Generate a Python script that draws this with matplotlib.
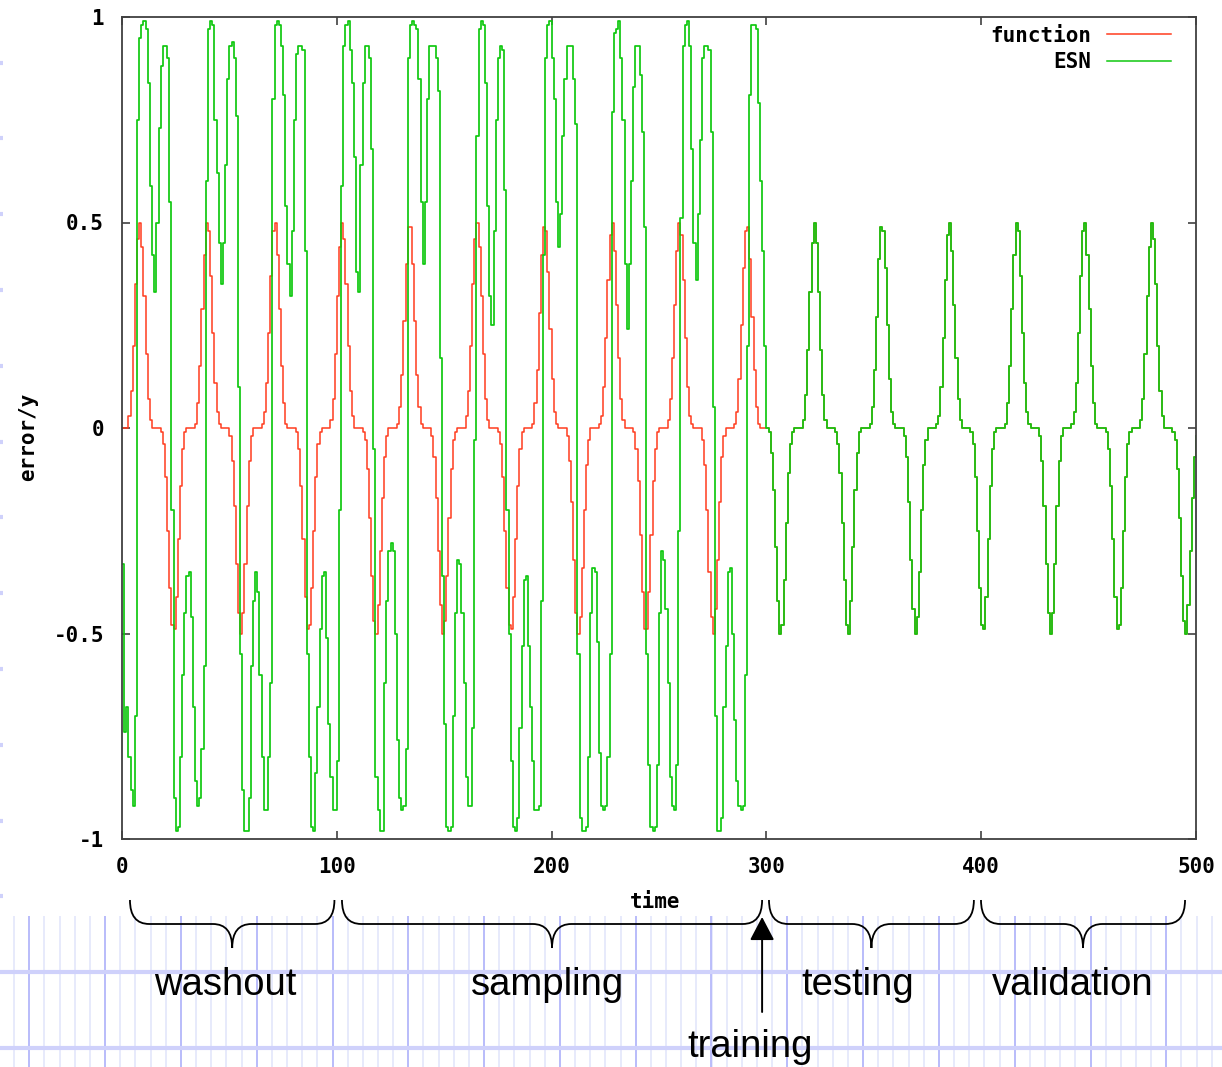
import numpy as np
import matplotlib.pyplot as plt
from matplotlib.path import Path
from matplotlib.patches import PathPatch, Rectangle
from matplotlib.transforms import blended_transform_factory

# one sample per time step, t = 0 .. 500
time = np.arange(501)

# target signal ("function")
function_y = [
    0, 0, 0, .03, .09, .20, .35, .46, .50, .44,
    .32, .18, .07, .02, 0, 0, 0, 0, -.01, -.04,
    -.12, -.25, -.39, -.48, -.49, -.41, -.27, -.14, -.05, -.01,
    0, 0, 0, 0, .01, .06, .15, .29, .42, .50,
    .48, .37, .23, .11, .04, .01, 0, 0, 0, 0,
    -.02, -.08, -.19, -.33, -.45, -.50, -.45, -.33, -.19, -.08,
    -.02, 0, 0, 0, 0, .01, .04, .11, .23, .37,
    .48, .50, .42, .29, .15, .06, .01, 0, 0, 0,
    0, -.01, -.05, -.14, -.27, -.41, -.49, -.48, -.39, -.25,
    -.12, -.04, -.01, 0, 0, 0, 0, .02, .07, .18,
    .32, .44, .50, .46, .35, .20, .09, .03, 0, 0,
    0, 0, -.01, -.03, -.10, -.22, -.36, -.47, -.50, -.43,
    -.30, -.17, -.07, -.02, 0, 0, 0, 0, .01, .05,
    .13, .26, .40, .49, .49, .40, .26, .13, .05, .01,
    0, 0, 0, 0, -.02, -.07, -.17, -.30, -.43, -.50,
    -.47, -.36, -.22, -.10, -.03, -.01, 0, 0, 0, 0,
    .03, .09, .20, .35, .46, .50, .44, .32, .18, .07,
    .02, 0, 0, 0, 0, -.01, -.04, -.12, -.25, -.39,
    -.48, -.49, -.41, -.27, -.14, -.05, -.01, 0, 0, 0,
    0, .01, .06, .14, .28, .42, .49, .48, .38, .24,
    .12, .04, .01, 0, 0, 0, 0, -.02, -.08, -.18,
    -.32, -.45, -.50, -.46, -.34, -.20, -.09, -.03, 0, 0,
    0, 0, .01, .03, .10, .22, .36, .47, .50, .43,
    .30, .17, .07, .02, 0, 0, 0, 0, -.01, -.05,
    -.13, -.26, -.40, -.49, -.49, -.40, -.26, -.13, -.05, -.01,
    0, 0, 0, 0, .02, .07, .17, .30, .43, .50,
    .47, .36, .22, .10, .03, .01, 0, 0, 0, 0,
    -.03, -.09, -.20, -.35, -.46, -.50, -.44, -.32, -.18, -.07,
    -.02, 0, 0, 0, 0, .01, .04, .12, .25, .39,
    .48, .49, .41, .27, .14, .05, .01, 0, 0, 0,
    0, -.01, -.06, -.15, -.29, -.42, -.50, -.48, -.37, -.23,
    -.11, -.04, -.01, 0, 0, 0, 0, .02, .08, .19,
    .33, .45, .50, .45, .33, .19, .08, .02, 0, 0,
    0, 0, -.01, -.04, -.11, -.23, -.37, -.48, -.50, -.42,
    -.29, -.15, -.06, -.01, 0, 0, 0, 0, .01, .05,
    .14, .27, .41, .49, .48, .39, .25, .12, .04, .01,
    0, 0, 0, 0, -.02, -.07, -.18, -.32, -.44, -.50,
    -.46, -.35, -.20, -.09, -.03, 0, 0, 0, 0, .01,
    .03, .10, .22, .36, .47, .50, .43, .30, .17, .07,
    .02, 0, 0, 0, 0, -.01, -.04, -.12, -.25, -.39,
    -.48, -.49, -.41, -.27, -.14, -.05, -.01, 0, 0, 0,
    0, .01, .06, .15, .29, .42, .50, .48, .37, .23,
    .11, .04, .01, 0, 0, 0, 0, -.02, -.08, -.19,
    -.33, -.45, -.50, -.45, -.33, -.19, -.08, -.02, 0, 0,
    0, 0, .01, .04, .11, .23, .37, .48, .50, .42,
    .29, .15, .06, .01, 0, 0, 0, 0, -.01, -.05,
    -.14, -.27, -.41, -.49, -.48, -.39, -.25, -.12, -.04, -.01,
    0, 0, 0, 0, .02, .07, .18, .32, .44, .50,
    .46, .35, .20, .09, .03, 0, 0, 0, 0, -.01,
    -.03, -.10, -.22, -.36, -.47, -.50, -.43, -.30, -.17, -.07,
    -.02,
]

# ESN output while the reservoir is driven (washout + sampling, t = 0 .. 299)
esn_driven = [
    -.33, -.74, -.68, -.80, -.88, -.92, -.70, .75, .95, .98,
    .99, .97, .84, .59, .42, .33, .50, .73, .88, .93,
    .93, .90, .55, -.20, -.90, -.98, -.97, -.80, -.60, -.45,
    -.36, -.35, -.46, -.68, -.86, -.92, -.90, -.78, -.58, .60,
    .97, .99, .98, .75, .62, .45, .35, .45, .64, .85,
    .93, .94, .90, .76, .10, -.55, -.88, -.98, -.98, -.90,
    -.58, -.42, -.35, -.40, -.60, -.80, -.93, -.93, -.80, -.62,
    .80, .98, .99, .98, .93, .81, .54, .40, .32, .48,
    .75, .91, .93, .93, .92, .43, -.55, -.80, -.97, -.98,
    -.84, -.68, -.49, -.36, -.35, -.51, -.72, -.85, -.93, -.93,
    -.81, -.20, .59, .93, .98, .99, .92, .84, .66, .38,
    .33, .64, .84, .93, .93, .90, .68, -.05, -.85, -.93,
    -.98, -.98, -.62, -.42, -.30, -.28, -.30, -.50, -.76, -.90,
    -.93, -.92, -.78, .90, .98, .99, .98, .97, .85, .55,
    .40, .55, .80, .93, .93, .93, .90, .82, .17, -.36,
    -.72, -.97, -.98, -.97, -.70, -.45, -.32, -.33, -.45, -.62,
    -.85, -.92, -.92, -.73, -.03, .71, .97, .99, .98, .84,
    .54, .32, .25, .48, .75, .90, .93, .92, .58, -.20,
    -.50, -.81, -.97, -.98, -.95, -.73, -.53, -.37, -.36, -.53,
    -.68, -.81, -.93, -.93, -.92, -.42, .42, .90, .98, .99,
    .90, .80, .55, .44, .52, .71, .85, .93, .93, .93,
    .85, .74, -.55, -.95, -.98, -.98, -.97, -.80, -.45, -.34,
    -.35, -.52, -.79, -.92, -.93, -.92, -.80, -.55, .77, .96,
    .97, .99, .90, .75, .40, .24, .40, .60, .83, .93,
    .93, .86, .72, .49, -.55, -.82, -.97, -.98, -.97, -.82,
    -.45, -.30, -.32, -.44, -.62, -.85, -.92, -.93, -.82, -.25,
    .51, .93, .98, .99, .93, .68, .45, .36, .52, .70,
    .90, .93, .93, .92, .72, .05, -.70, -.98, -.98, -.95,
    -.68, -.53, -.35, -.34, -.50, -.71, -.86, -.92, -.93, -.92,
    -.60, .20, .81, .98, .98, .97, .79, .60, .43, .20,
]

# after training the ESN runs free and sits on top of the target
esn_y = esn_driven + function_y[300:]

phase_names = ['washout', 'sampling', 'testing', 'validation']

# --- layout (pixels of the 1222 x 1067 picture) ---
W, H = 1222, 1067
RED = '#ff3c1e'
GREEN = '#10c810'
mono = dict(family='DejaVu Sans Mono', weight='bold', size=15)

fig = plt.figure(figsize=(W / 100, H / 100), dpi=100, facecolor='white')

# graph paper behind the picture
bg = fig.add_axes([0, 0, 1, 1], zorder=0)
bg.set_xlim(0, W)
bg.set_ylim(H, 0)
bg.axis('off')
bg.vlines(np.arange(29.3 - 15.16, W, 15.16), 916, H, color='#e3e6fb', lw=1.2)
bg.vlines(np.arange(29.3, W, 75.8), 916, H, color='#b6b9fa', lw=1.3)
bg.hlines(np.arange(1048, 0, -75.8), 0, W, color='#cfd1fb', lw=3.0)
bg.add_patch(Rectangle((3, 0), W, 916, facecolor='white', edgecolor='none', zorder=2))

# the gnuplot chart
ax = fig.add_axes([122 / W, 1 - 839 / H, 1074 / W, 822 / H], zorder=1)
ax.set_facecolor('white')
ax.step(time, function_y, where='post', color=RED, lw=1.1)
ax.step(time, esn_y, where='post', color=GREEN, lw=1.25)
ax.set_xlim(0, 500)
ax.set_ylim(-1, 1)

ax.set_xticks([0, 100, 200, 300, 400, 500])
ax.set_xticklabels(['0', '100', '200', '300', '400', '500'], fontdict=mono)
ax.set_yticks([-1, -0.5, 0, 0.5, 1])
ax.set_yticklabels(['-1', '-0.5', '0', '0.5', '1'], fontdict=mono)
ax.tick_params(direction='in', length=5.5, width=1.1, top=True, right=True, color='#303030')
ax.tick_params(axis='x', pad=13)
ax.tick_params(axis='y', pad=13)
for sp in ax.spines.values():
    sp.set_color('#404040')
    sp.set_linewidth(1.3)

# key, gnuplot style: text right-aligned, line sample after it
for label, color, yb in [('function', RED, 0.9700), ('ESN', GREEN, 0.9376)]:
    ax.text(0.9022, yb, label, ha='right', va='baseline', transform=ax.transAxes, **mono)
    ax.plot([0.9171, 0.9767], [yb + 0.009, yb + 0.009], transform=ax.transAxes,
            color=color, lw=1.1, clip_on=False)

bg.text(28, 437, 'error/y', rotation=90, ha='center', va='center', zorder=3, **mono)
bg.text(655, 902, 'time', ha='center', va='center', zorder=3, **mono)


def brace(x0, x1, trans, r=9.0, y_top=900, y_mid=924, y_tip=948):
    xc = (x0 + x1) / 2
    verts = [(x0, y_top), (x0, y_mid), (x0 + r, y_mid),
             (xc - r, y_mid), (xc, y_mid), (xc, y_tip),
             (xc, y_mid), (xc + r, y_mid),
             (x1 - r, y_mid), (x1, y_mid), (x1, y_top)]
    codes = [Path.MOVETO, Path.CURVE3, Path.CURVE3,
             Path.LINETO, Path.CURVE3, Path.CURVE3,
             Path.CURVE3, Path.CURVE3,
             Path.LINETO, Path.CURVE3, Path.CURVE3]
    return PathPatch(Path(verts, codes), transform=trans, fill=False,
                     lw=1.3, edgecolor='black', zorder=3)


# braces below the time axis: x in time steps, y in picture pixels
mix = blended_transform_factory(ax.transData, bg.transData)
brace_spans = [(3.7, 98.9), (102.4, 298.0), (301.2, 396.6), (399.9, 494.9)]
label_x = [225, 548, 858, 1073]
for (x0, x1), name, lx in zip(brace_spans, phase_names, label_x):
    bg.add_patch(brace(x0, x1, mix))
    bg.text(lx, 995, name, ha='center', va='baseline', family='Liberation Sans',
            size=27.5, zorder=3)

bg.annotate('', xy=(298, 917), xytext=(298, 1012), xycoords=mix, textcoords=mix,
            arrowprops=dict(arrowstyle='-|>,head_length=0.8,head_width=0.42',
                            mutation_scale=18, lw=1.4, color='black',
                            shrinkA=0, shrinkB=0), zorder=3)
bg.text(750, 1057, 'training', ha='center', va='baseline', family='Liberation Sans',
        size=27.5, zorder=3)

fig.savefig('out.png', dpi=100, facecolor='white')
